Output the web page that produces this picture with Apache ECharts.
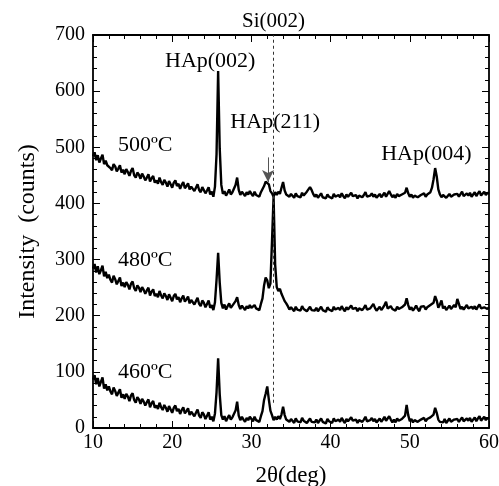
<!DOCTYPE html>
<html>
<head>
<meta charset="utf-8">
<script src="https://cdn.jsdelivr.net/npm/echarts@6/dist/echarts.min.js"></script>
<style>html,body{margin:0;padding:0;background:#fff}#c{width:499px;height:486px}</style>
</head>
<body>
<div id="c"></div>
<script>
// 2θ sampling: 10.0 .. 60.0 deg, step 0.2
const thetaStart = 10, thetaStep = 0.2;
const xTicks = [10, 20, 30, 40, 50, 60];
const yTicks = [0, 100, 200, 300, 400, 500, 600, 700];

const i500 = [
484,491,477,486,473,480,487,470,476,468,
471,463,459,470,466,457,462,468,455,460,
452,461,456,449,458,463,450,446,455,451,
444,453,448,441,446,452,439,445,449,437,
441,435,446,438,433,442,437,430,440,434,
428,437,441,431,435,426,433,438,427,431,
436,425,430,433,422,428,434,424,420,429,
426,418,423,429,416,421,412,430,488,636,
498,433,417,422,414,419,425,416,420,423,
433,446,424,415,421,417,413,420,416,422,
417,413,421,415,418,412,420,423,431,439,
442,434,422,418,412,420,415,421,417,428,
438,423,416,419,412,417,414,410,418,413,
416,411,419,414,417,421,425,429,424,417,
412,416,410,414,418,411,413,409,416,412,
414,409,417,412,410,415,411,418,413,409,
416,412,410,419,413,411,415,409,414,417,
411,415,420,412,409,414,418,412,416,410,
413,417,411,415,419,412,414,422,416,411,
415,410,417,413,411,416,414,419,428,418,
412,416,410,414,417,411,409,415,413,418,
412,416,414,420,428,443,463,448,425,416,
411,415,418,410,413,417,412,409,416,413,
417,412,415,421,413,410,418,414,419,412,
416,420,413,418,422,414,417,421,415,419,
417];

const i480 = [
284,292,277,288,274,281,289,270,278,267,
273,264,259,271,265,256,262,268,253,259,
251,260,255,247,257,261,249,244,254,250,
242,251,246,239,245,250,236,243,247,235,
239,233,244,236,231,240,235,228,238,232,
226,235,239,229,233,224,231,236,225,229,
234,222,228,231,220,226,232,221,217,227,
223,215,221,227,214,219,210,224,264,312,
259,223,213,220,211,217,222,214,218,221,
226,233,219,212,218,214,210,217,213,219,
214,211,219,213,216,210,221,231,254,268,
263,249,257,332,412,291,251,244,248,239,
236,226,222,217,211,215,212,208,216,211,
214,209,217,212,215,208,211,216,210,213,
209,214,208,212,216,210,213,207,215,211,
213,208,216,211,209,214,210,217,212,208,
215,211,209,218,212,210,214,208,213,216,
210,214,219,211,208,213,217,221,214,209,
212,216,210,214,219,225,213,210,217,212,
214,209,216,212,210,215,213,220,231,219,
211,215,209,213,218,212,208,216,213,217,
211,215,213,219,216,223,235,227,214,220,
227,213,217,210,214,218,212,209,219,215,
230,221,212,216,211,215,219,213,210,216,
212,217,211,216,220,213,210,215,218,212,
215];

const i460 = [
86,94,78,89,74,82,90,70,78,67,
74,65,60,72,66,57,63,69,54,60,
52,61,56,48,58,62,50,45,55,51,
43,52,47,40,46,51,37,44,48,36,
40,34,45,37,32,41,36,29,39,33,
27,36,40,30,34,25,32,37,26,30,
35,23,29,32,21,27,33,22,18,28,
24,16,22,28,15,20,12,26,64,124,
60,23,15,21,12,18,23,15,19,22,
31,47,22,14,20,15,11,18,14,20,
16,12,20,14,17,11,21,30,50,61,
74,51,31,23,14,20,15,21,16,24,
38,23,15,18,11,16,13,9,17,12,
15,10,18,13,16,9,12,17,11,14,
10,15,9,13,17,11,14,8,16,12,
14,9,17,12,10,15,11,18,13,9,
16,12,10,19,13,11,15,9,14,17,
11,15,20,12,9,14,18,12,16,10,
13,17,11,15,20,13,14,21,15,10,
15,10,17,13,11,16,14,22,41,23,
12,16,10,14,17,11,9,15,13,18,
12,16,14,19,17,24,36,27,15,11,
14,10,16,9,13,17,11,8,15,12,
16,11,14,19,12,9,17,13,18,11,
15,19,12,17,21,13,16,20,14,18,
16];

// Annotations: [2θ, intensity, text]
const siPeak = 32.8, siLineBottom = 45;
const arrowX = 32.1, arrowFrom = 482, arrowTo = 438;
const annotations = [
  [24.8, 654, 'HAp(002)'],
  [33.0, 545, 'HAp(211)'],
  [52.1, 488, 'HAp(004)'],
  [16.6, 504, '500ºC'],
  [16.6, 298, '480ºC'],
  [16.6, 100, '460ºC']
];

function pairs(arr){ return arr.map((v,i)=>[+(thetaStart + i*thetaStep).toFixed(2), v]); }

const FONT = 'Liberation Serif';
const axisCommon = {
  axisLine:{show:true, onZero:false, lineStyle:{color:'#000', width:1.8}},
  axisTick:{show:true, inside:true, length:7, lineStyle:{color:'#000', width:1}},
  minorTick:{show:true, splitNumber:5, length:4, lineStyle:{color:'#000', width:1}},
  splitLine:{show:false}
};
const lineSeries = (data)=>({
  type:'line', data:pairs(data), showSymbol:false, symbol:'none',
  lineStyle:{color:'#000', width:2.4}, animation:false, z:3
});

const chart = echarts.init(document.getElementById('c'), null, {renderer:'canvas'});
const s500 = lineSeries(i500);
s500.markLine = {
  silent:true, animation:false, symbol:['none','arrow'], symbolSize:[9,12],
  lineStyle:{color:'#555', width:1, type:'solid'},
  label:{show:false},
  data:[[{coord:[arrowX, arrowFrom]},{coord:[arrowX, arrowTo]}]]
};
const s480 = lineSeries(i480);
s480.markLine = {
  silent:true, animation:false, symbol:['none','none'],
  lineStyle:{color:'#333', width:1, type:[3,3]},
  label:{show:true, position:'end', formatter:'Si(002)', fontFamily:FONT, fontSize:21, color:'#000', distance:3},
  data:[[{coord:[siPeak, siLineBottom]},{coord:[siPeak, 700]}]]
};

chart.setOption({
  animation:false,
  grid:{left:93, right:10, top:35, bottom:58, containLabel:false, outerBoundsMode:'none'},
  xAxis:[
    Object.assign({type:'value', min:10, max:60, interval:10, position:'bottom',
      name:'2θ(deg)', nameLocation:'middle', nameGap:36,
      nameTextStyle:{fontFamily:FONT, fontSize:23, color:'#000'},
      axisLabel:{fontFamily:FONT, fontSize:20, color:'#000', margin:5,
        formatter:(v)=> xTicks.includes(v) ? String(v) : ''}}, axisCommon),
    Object.assign({type:'value', min:10, max:60, interval:10, position:'top',
      axisLabel:{show:false}}, axisCommon)
  ],
  yAxis:[
    Object.assign({type:'value', min:0, max:700, interval:100, position:'left',
      name:'Intensity  (counts)', nameLocation:'middle', nameGap:53,
      nameTextStyle:{fontFamily:FONT, fontSize:24, color:'#000'},
      axisLabel:{fontFamily:FONT, fontSize:20, color:'#000', margin:8,
        formatter:(v)=> yTicks.includes(v) ? String(v) : ''}}, axisCommon),
    Object.assign({type:'value', min:0, max:700, interval:100, position:'right',
      axisLabel:{show:false}}, axisCommon)
  ],
  series:[
    s500, s480, lineSeries(i460),
    {type:'scatter', symbolSize:0, silent:true, animation:false, z:5,
     itemStyle:{opacity:1},
     data:annotations.map(a=>({value:[a[0],a[1]], name:a[2]})),
     label:{show:true, position:'inside', formatter:(p)=>p.name, opacity:1,
       fontFamily:FONT, fontSize:22, color:'#000'}}
  ]
});
</script>
</body>
</html>
